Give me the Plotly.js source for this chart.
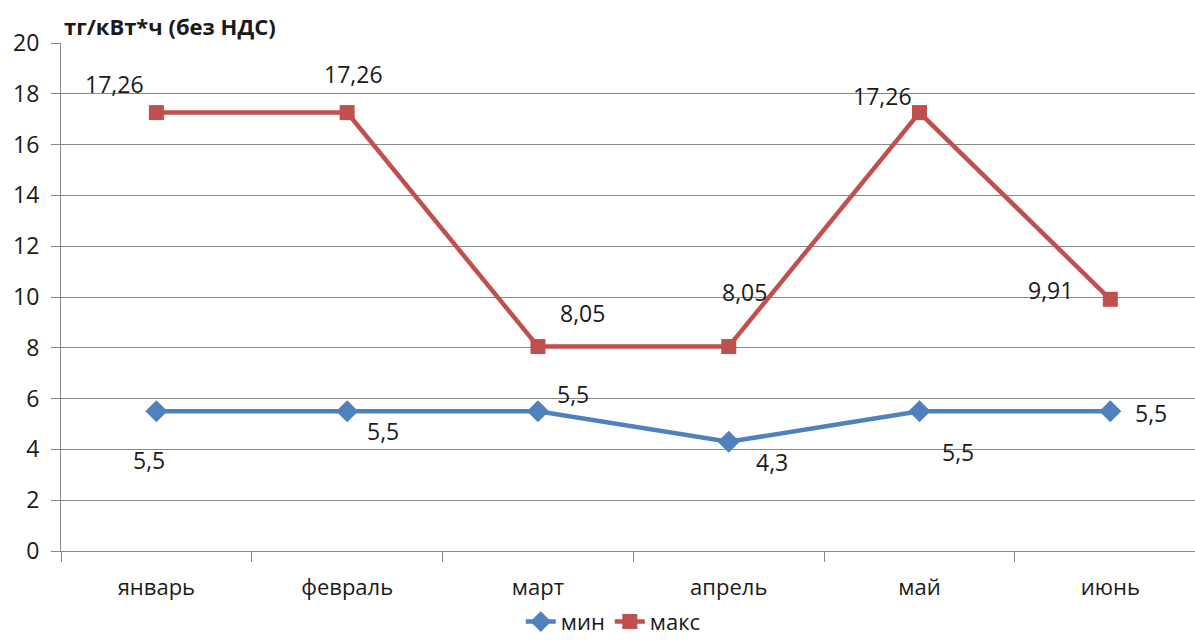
<!DOCTYPE html>
<html>
<head>
<meta charset="utf-8">
<script src="https://cdn.plot.ly/plotly-3.0.1.min.js"></script>
<style>
  html, body { margin: 0; padding: 0; overflow: hidden; background: #fff; }
  #chart { width: 1195px; height: 641px; }
</style>
</head>
<body>
<div id="chart"></div>
<script>
// ---- data ----
const categories = ['январь', 'февраль', 'март', 'апрель', 'май', 'июнь'];
const minValues = [5.5, 5.5, 5.5, 4.3, 5.5, 5.5];
const maxValues = [17.26, 17.26, 8.05, 8.05, 17.26, 9.91];
const seriesNames = ['мин', 'макс'];
const unitTitle = 'тг/кВт*ч (без НДС)';

// ---- style: label offsets (px) as placed in the original chart ----
const minLabelShift = [[-7, -49], [36, -20], [35, 17], [43, -20], [38, -41], [41, -2]];
const maxLabelShift = [[-42, 29], [6, 39], [45, 34], [16, 55], [-37, 17], [-60, 9]];

const FONT = 'Open Sans, Lato, sans-serif';
const TXT = '#1a1a1a';
const GRID = '#878787';
const BLUE = '#4F81BD';
const RED = '#C0504D';

const fmt = v => String(v).replace('.', ',');

const traces = [
  {
    x: categories, y: minValues, name: seriesNames[0], type: 'scatter', mode: 'lines+markers',
    line: { color: BLUE, width: 4.5 },
    marker: { symbol: 'diamond', size: 17, color: BLUE },
    hoverinfo: 'none'
  },
  {
    x: categories, y: maxValues, name: seriesNames[1], type: 'scatter', mode: 'lines+markers',
    line: { color: RED, width: 4.5 },
    marker: { symbol: 'square', size: 15, color: RED },
    hoverinfo: 'none'
  }
];

const annotations = [];
categories.forEach((c, i) => {
  annotations.push({
    x: c, y: minValues[i], xref: 'x', yref: 'y', text: fmt(minValues[i]),
    showarrow: false, xshift: minLabelShift[i][0], yshift: minLabelShift[i][1],
    font: { family: FONT, size: 23, color: TXT }
  });
  annotations.push({
    x: c, y: maxValues[i], xref: 'x', yref: 'y', text: fmt(maxValues[i]),
    showarrow: false, xshift: maxLabelShift[i][0], yshift: maxLabelShift[i][1],
    font: { family: FONT, size: 23, color: TXT }
  });
});
annotations.push({
  xref: 'paper', yref: 'paper', x: 0, y: 1, xanchor: 'left', yanchor: 'bottom',
  xshift: 1, yshift: 0, showarrow: false, text: '<b>' + unitTitle + '</b>',
  font: { family: FONT, size: 22, color: TXT }
});

const layout = {
  width: 1195, height: 641,
  margin: { l: 61, r: 0, t: 43, b: 90, autoexpand: false },
  paper_bgcolor: '#fff', plot_bgcolor: '#fff',
  font: { family: FONT, color: TXT },
  showlegend: true,
  legend: {
    orientation: 'h', x: 0.487, xanchor: 'center', y: -0.098, yanchor: 'top',
    font: { family: FONT, size: 22, color: TXT }, bgcolor: 'rgba(0,0,0,0)'
  },
  xaxis: {
    type: 'category', range: [-0.5, 5.444], fixedrange: true,
    tickson: 'boundaries', ticks: 'outside', ticklen: 10, tickcolor: GRID, tickwidth: 1,
    showline: true, linecolor: GRID, linewidth: 1, showgrid: false, zeroline: false,
    tickfont: { family: FONT, size: 22, color: TXT }, ticklabelstandoff: 17
  },
  yaxis: {
    range: [0, 20], tick0: 0, dtick: 2, fixedrange: true,
    ticks: 'outside', ticklen: 9, tickcolor: GRID, tickwidth: 1,
    showline: true, linecolor: GRID, linewidth: 1,
    showgrid: true, gridcolor: GRID, gridwidth: 1, zeroline: false,
    tickfont: { family: FONT, size: 23, color: TXT }, ticklabelstandoff: 7
  },
  annotations: annotations
};

Plotly.newPlot('chart', traces, layout, { displayModeBar: false, staticPlot: true });
</script>
</body>
</html>
